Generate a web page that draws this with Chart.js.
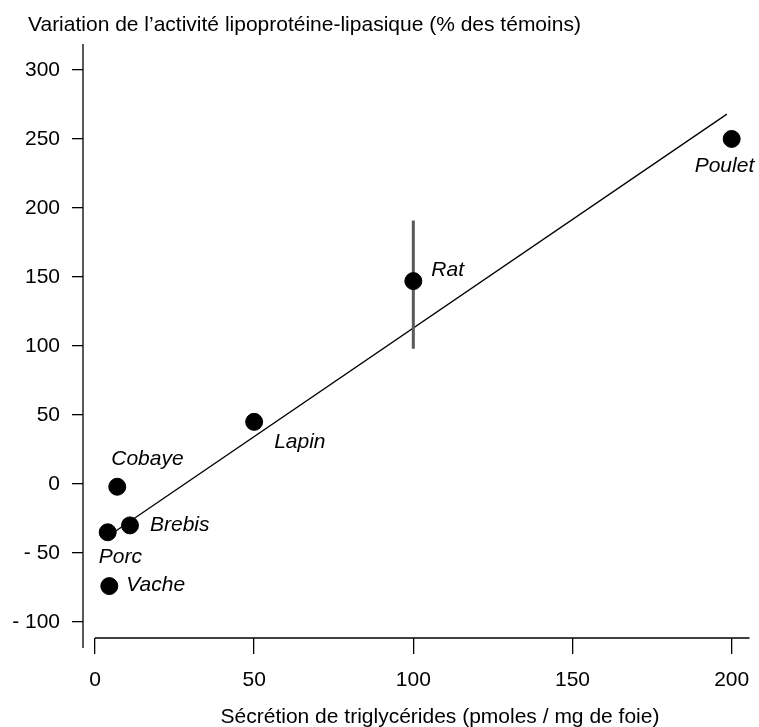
<!DOCTYPE html>
<html>
<head>
<meta charset="utf-8">
<script src="https://cdn.jsdelivr.net/npm/chart.js@4/dist/chart.umd.min.js"></script>
<style>
  html, body { margin: 0; padding: 0; background: #fff; }
  #wrap { width: 759px; height: 727px; }
</style>
</head>
<body>
<div id="wrap"><canvas id="graphique"></canvas></div>
<script>
// --- Données ---
const especes = ["Poulet", "Rat", "Lapin", "Cobaye", "Brebis", "Porc", "Vache"];
const secretion = [200, 100, 50, 7, 11, 4, 4.5];          // axe X
const variationLPL = [250, 147, 45, -2, -30, -35, -74];   // axe Y

// barre d'erreur du rat
const ratErreurX = [100, 100];
const ratErreurY = [98, 191];

// droite de régression
const droiteX = [4, 198.5];
const droiteY = [-38, 268];

const ticksY = [-100, -50, 0, 50, 100, 150, 200, 250, 300];
const ticksX = [0, 50, 100, 150, 200];

// décalage des étiquettes (px) par rapport au point
const decalages = [
  [-37, 27], [18, -11], [20, 20], [-6, -28], [20, 0], [-9, 25], [17, -1]
];

const police = "'Liberation Sans', Arial, sans-serif";
const taille = 21;

// --- Plugin : axes détachés, titres et étiquettes ---
const habillage = {
  id: "habillage",
  afterDatasetsDraw(chart) {
    const ctx = chart.ctx;
    const x = chart.scales.x, y = chart.scales.y;
    const area = chart.chartArea;
    ctx.save();
    ctx.strokeStyle = "#000";
    ctx.lineWidth = 1.3;
    // axe X (commence à x = 0)
    ctx.beginPath();
    ctx.moveTo(x.getPixelForValue(0), area.bottom);
    ctx.lineTo(area.right, area.bottom);
    ctx.stroke();
    // axe Y prolongé vers le bas
    ctx.beginPath();
    ctx.moveTo(area.left, area.top);
    ctx.lineTo(area.left, area.bottom + 10);
    ctx.stroke();

    // étiquettes des espèces
    ctx.fillStyle = "#000";
    ctx.font = "italic " + taille + "px " + police;
    ctx.textBaseline = "middle";
    ctx.textAlign = "left";
    especes.forEach(function (nom, i) {
      const px = x.getPixelForValue(secretion[i]) + decalages[i][0];
      const py = y.getPixelForValue(variationLPL[i]) + decalages[i][1];
      ctx.fillText(nom, px, py);
    });

    // titres
    ctx.font = taille + "px " + police;
    ctx.fillText("Variation de l\u2019activit\u00e9 lipoprot\u00e9ine-lipasique (% des t\u00e9moins)", 28, 25);
    ctx.textAlign = "center";
    ctx.fillText("S\u00e9cr\u00e9tion de triglyc\u00e9rides (pmoles / mg de foie)", 440, 717);
    ctx.restore();
  },
};

// pas de marge automatique pour les étiquettes
function sansMarge(s) {
  s.paddingLeft = 0;
  s.paddingRight = 0;
  s.paddingTop = 0;
  s.paddingBottom = 0;
}

const ctxGraphique = document.getElementById("graphique").getContext("2d");

new Chart(ctxGraphique, {
  type: "scatter",
  data: {
    datasets: [
      {
        label: "Espèces",
        data: secretion.map((v, i) => ({ x: v, y: variationLPL[i] })),
        backgroundColor: "#000",
        borderColor: "#000",
        pointRadius: 8.5,
        pointHoverRadius: 8.5,
        order: 1,
      },
      {
        label: "Erreur",
        type: "line",
        data: ratErreurX.map((v, i) => ({ x: v, y: ratErreurY[i] })),
        borderColor: "#5a5a5a",
        borderWidth: 3,
        pointRadius: 0,
        order: 2,
      },
      {
        label: "Régression",
        type: "line",
        data: droiteX.map((v, i) => ({ x: v, y: droiteY[i] })),
        borderColor: "#000",
        borderWidth: 1.3,
        pointRadius: 0,
        order: 3,
      },
    ],
  },
  options: {
    responsive: true,
    maintainAspectRatio: false,
    animation: false,
    layout: { padding: { top: 44, right: 7, bottom: 0, left: 0 } },
    plugins: {
      legend: { display: false },
      tooltip: { enabled: false },
    },
    scales: {
      x: {
        type: "linear",
        bounds: "data",
        min: -3.76,
        max: 205.6,
        afterFit: (s) => { s.height = 89; sansMarge(s); },
        afterBuildTicks: (s) => { s.ticks = ticksX.map((v) => ({ value: v })); },
        border: { display: false },
        grid: {
          drawOnChartArea: false,
          drawTicks: true,
          tickLength: 16,
          color: "#000",
          lineWidth: 1.3,
        },
        ticks: {
          color: "#000",
          font: { family: police, size: taille },
          padding: 14,
          maxRotation: 0,
        },
      },
      y: {
        type: "linear",
        bounds: "data",
        min: -111.6,
        max: 318.8,
        afterFit: (s) => { s.width = 83; sansMarge(s); },
        afterBuildTicks: (s) => { s.ticks = ticksY.map((v) => ({ value: v })); },
        border: { display: false },
        grid: {
          drawOnChartArea: false,
          drawTicks: true,
          tickLength: 11,
          color: "#000",
          lineWidth: 1.3,
        },
        ticks: {
          color: "#000",
          font: { family: police, size: taille },
          padding: 12,
          callback: (v) => (v < 0 ? "- " + Math.abs(v) : String(v)),
        },
      },
    },
  },
  plugins: [habillage],
});
</script>
</body>
</html>
